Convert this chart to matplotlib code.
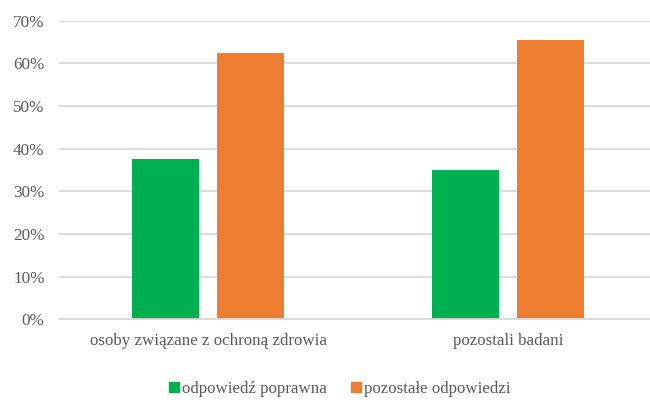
import matplotlib
matplotlib.use("Agg")
import matplotlib.pyplot as plt
import numpy as np
from matplotlib.ticker import PercentFormatter
from matplotlib.lines import Line2D

categories = ["osoby związane z ochroną zdrowia", "pozostali badani"]
series_names = ["odpowiedź poprawna", "pozostałe odpowiedzi"]
correct = [37.6, 34.9]
other = [62.4, 65.4]
y_ticks = [0, 10, 20, 30, 40, 50, 60, 70]

colors = ["#00B050", "#ED7D31"]
text_color = "#595959"
grid_color = "#D9D9D9"

plt.rcParams["font.family"] = ["Liberation Serif", "DejaVu Serif"]

fig = plt.figure(figsize=(6.5, 4.0), dpi=100)
W, H = 650, 400
left, right = 58.5, 657.5
bottom, top = 400 - 319.3, 400 - 20.7
ax = fig.add_axes([left / W, bottom / H, (right - left) / W, (top - bottom) / H])

x = np.arange(len(categories))
width = 0.224
offset = 0.142
ax.bar(x - offset, correct, width, color=colors[0], zorder=3)
ax.bar(x + offset, other, width, color=colors[1], zorder=3)

ax.set_xlim(-0.5, len(categories) - 0.5)
ax.set_ylim(0, 70)
ax.set_yticks(y_ticks)
ax.yaxis.set_major_formatter(PercentFormatter(decimals=0))
ax.set_xticks(x)
ax.set_xticklabels(categories)

ax.grid(axis="y", color=grid_color, linewidth=1.3, zorder=0)
for s in ["top", "right", "left"]:
    ax.spines[s].set_visible(False)
ax.spines["bottom"].set_color(grid_color)
ax.spines["bottom"].set_linewidth(1.3)
ax.spines["bottom"].set_zorder(4)

ax.tick_params(axis="y", length=0, pad=10, labelsize=12.3, labelcolor=text_color)
ax.tick_params(axis="x", length=0, pad=10, labelsize=12.2, labelcolor=text_color)

handles = [Line2D([], [], marker="s", linestyle="none", markersize=7,
                  markerfacecolor=c, markeredgecolor=c) for c in colors]
fig.legend(handles, series_names, loc="center", bbox_to_anchor=(0.521, 1 - 389 / H),
           ncol=2, frameon=False, fontsize=12.2, labelcolor=text_color,
           handletextpad=0.0, columnspacing=1.3, handlelength=0.9)

fig.savefig("out.png", dpi=100, facecolor="white")
